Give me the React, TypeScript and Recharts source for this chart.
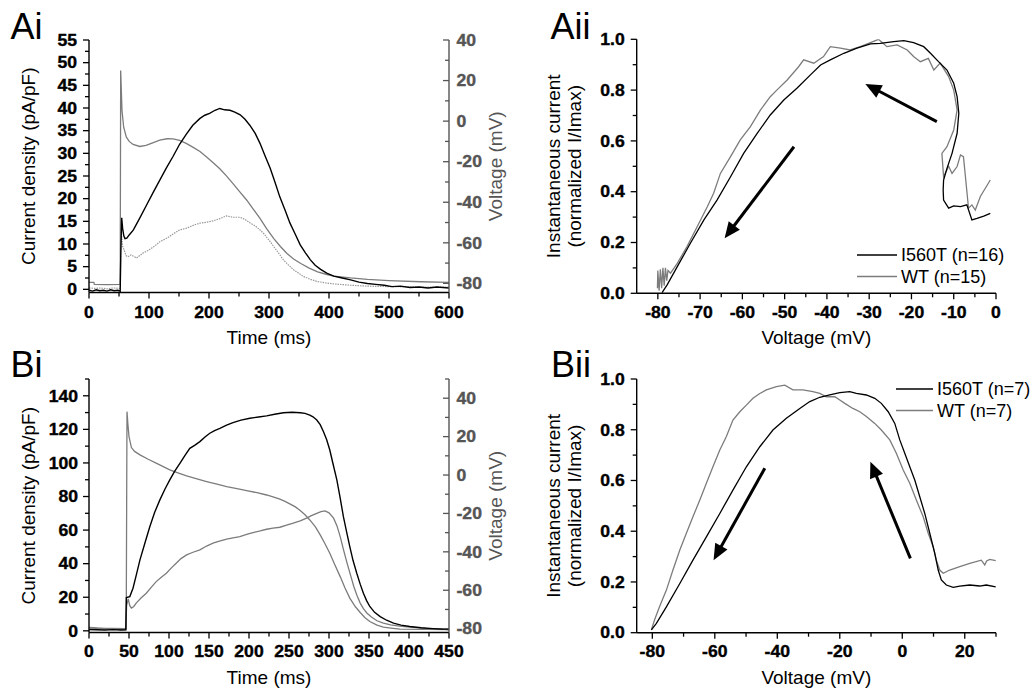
import React from 'react';
import { LineChart, Line, XAxis, YAxis, ReferenceLine, Legend } from 'recharts';

// ---------------- data ----------------
// Panel Ai: time (ms) vs current density (pA/pF) and voltage (mV)
const AI_VOLTAGE: [number, number][] = [
  [0, -79.5], [8, -79.5], [9, -80.5], [30, -80.6], [52, -80.5], [52.8, 25], [55, 5.2], [57.8, -3], [62.3, -7.9],
  [67, -10], [73.5, -11.5], [84.6, -12.5], [95, -12], [105, -10.8], [118, -9.4], [130, -8.7], [140, -8.8],
  [151, -9.5], [162, -11], [173, -12.8], [185, -15], [196, -17.7], [207, -20.5], [218, -23.5], [229, -27],
  [240, -30.8], [251, -34.8], [263, -39], [274, -43.5], [285, -48], [296, -53], [308, -57.9], [319, -61.8],
  [330, -65.3], [341, -68], [353, -70.2], [367, -72.5], [381, -74.3], [395, -75.5], [408, -76.4], [436, -77.3],
  [464, -78], [500, -78.6], [553, -79.2], [600, -79.5],
];
const AI_I560T: [number, number][] = [
  [0, -0.2], [6, -0.4], [12, -0.1], [18, -0.3], [24, -0.2], [30, -0.4], [36, -0.1], [42, -0.3], [48, -0.2],
  [52, -0.4], [53, 8], [54.5, 15.8], [56, 13.5], [58, 11.8], [60, 11.2], [63, 11.3], [67, 12], [74, 13.1],
  [85, 15.8], [96, 18.6], [107, 21.4], [118, 24.1], [129, 26.8], [140, 29.3], [151, 32], [162, 34.2],
  [173, 36.2], [185, 37.7], [193, 38.4], [201, 38.8], [210, 39.5], [218, 39.9], [226, 39.6], [235, 39.5],
  [243, 39.1], [252, 38.5], [260, 37.5], [268, 36.2], [277, 34.4], [285, 32.2], [293, 29.6], [302, 26.7],
  [310, 23.6], [318, 20.4], [327, 17.4], [335, 14.6], [344, 12.1], [352, 9.8], [361, 8], [369, 6.5],
  [377, 5.3], [386, 4.4], [397, 3.5], [408, 2.9], [422, 2.5], [436, 2.1], [450, 1.6], [464, 1.3], [478, 1.1],
  [492, 0.9], [505, 0.6], [519, 0.7], [535, 0.4], [550, 0.5], [565, 0.3], [580, 0.5], [600, 0.3],
];
const AI_WT: [number, number][] = [
  [0, 0.3], [10, 0.2], [20, 0.3], [30, 0.1], [40, 0.3], [52, 0.2], [53.5, 13], [56, 9.5], [59, 8.5], [62, 7.4],
  [65, 7.2], [70, 7.6], [74, 7.3], [79, 6.9], [84, 7.4], [90, 8], [100, 8.7], [110, 9.6], [118, 10.5],
  [130, 11.3], [140, 12.2], [151, 13.1], [163, 13.5], [175, 14.2], [185, 14.6], [196, 14.8], [207, 15.1],
  [218, 15.6], [229, 16.2], [240, 15.9], [252, 15.9], [260, 15.4], [268, 14.7], [277, 14], [285, 13.1],
  [292, 12.2], [296, 11.5], [302, 10.5], [308, 9.4], [316, 8], [324, 6.5], [333, 5.3], [341, 4.3], [350, 3.5],
  [358, 2.8], [369, 2.2], [381, 1.7], [395, 1.4], [408, 1.2], [436, 0.9], [464, 0.7], [500, 0.6], [550, 0.5],
  [600, 0.5],
];

// Panel Bi
const BI_VOLTAGE: [number, number][] = [
  [0, -79.3], [10, -79.6], [20, -79.8], [30, -79.9], [46.5, -80], [47.5, 33], [48.5, 27], [50, 20], [53, 14.3],
  [57, 12.3], [63.7, 10.5], [74, 8.2], [84.6, 6.1], [101, 2.7], [112, 1], [122, -0.5], [135, -2], [147, -3.4],
  [160, -4.8], [172, -6], [185, -7.1], [197, -8.1], [210, -9.2], [222, -10.4], [230, -11.4], [238.6, -12.6],
  [245, -13.7], [251, -15], [258, -16.6], [264, -18.5], [270, -20.7], [276, -23.4], [283, -27], [289, -31.2],
  [295, -35.8], [301, -40.7], [307, -46.5], [314, -52.9], [320, -58.8], [326, -64.1], [333, -68.6],
  [339, -71.6], [345, -74.3], [351, -76.3], [360, -78.2], [368, -79.2], [380, -79.8], [389, -80.2],
  [420, -80.4], [450, -80.5],
];
const BI_I560T: [number, number][] = [
  [0, 0.8], [10, 0.6], [20, 0.5], [30, 0.7], [40, 0.5], [46, 0.6], [46.7, 19.8], [51, 20.4], [55, 25.4],
  [59, 33], [63.7, 42.3], [70, 52.5], [76, 62], [82, 70.5], [88.6, 78], [95, 84.5], [101, 89.9], [107, 95],
  [113.6, 99.8], [120, 104.5], [126, 108.7], [132, 110.5], [138.6, 112.7], [145, 115.5], [151, 117.7],
  [157, 119.3], [163.6, 120.6], [172, 122.5], [180, 124], [190, 125.5], [201, 126.6], [212, 127.4], [222, 128],
  [232, 129], [243, 129.9], [254, 130.2], [264, 129.9], [270, 129.5], [276, 128.5], [280, 127.5],
  [284.7, 125.6], [289, 122.8], [293, 118.7], [297, 114], [301, 107.7], [305, 99.5], [309.8, 89.9], [314, 79],
  [318, 68], [322, 59], [326, 50.2], [330, 42], [334.7, 34.3], [339, 27.8], [343, 22.4], [347, 18], [351, 14.5],
  [357, 11], [364, 8.5], [372, 6.3], [380.6, 4.6], [390, 3.4], [401, 2.6], [415, 1.8], [430, 1.3], [450, 0.8],
];
const BI_WT: [number, number][] = [
  [0, 1.8], [10, 1.5], [20, 1.2], [30, 1], [40, 0.8], [46, 0.7], [47, 15], [49, 19], [51, 15], [53, 13.5],
  [56, 14.5], [59, 16.5], [65, 19.5], [71.6, 22.4], [78, 26], [84, 29.3], [90, 31.8], [96.7, 34.3], [103, 37.5],
  [109, 40.3], [115, 43], [122, 45.2], [130, 46.8], [138.6, 48.2], [147, 50.5], [155, 52.2], [163, 53.4],
  [172, 54.6], [180, 55.3], [188.6, 56.1], [197, 57.4], [205, 58.5], [214, 59.5], [222, 60.5], [230, 61.2],
  [238.6, 61.7], [247, 62.9], [255.3, 64.1], [264, 65.5], [272, 67.1], [278, 68.6], [284.7, 70], [290, 71],
  [295, 71.4], [300, 70.3], [305.7, 67.1], [310, 62.5], [314, 56.1], [318, 48.5], [322.6, 40.3], [327, 33],
  [331, 26.4], [335, 21], [339, 16.5], [343, 13.2], [347.6, 10.5], [353, 8.2], [360, 6], [368, 4.6],
  [377, 3.6], [388, 2.8], [401, 2.2], [420, 1.5], [450, 1],
];

// Panel Aii: voltage (mV) vs normalized current, in trajectory order
const AII_I560T: [number, number][] = [
  [-1.35, 0.315], [-2.9, 0.304], [-4.5, 0.295], [-5.7, 0.289], [-6.9, 0.348], [-8.4, 0.341], [-10, 0.344],
  [-11.2, 0.335], [-12.4, 0.367], [-12.5, 0.407], [-12.4, 0.446], [-11.6, 0.492], [-10.4, 0.551], [-9.2, 0.63],
  [-8.8, 0.709], [-9.2, 0.774], [-10, 0.827], [-11.6, 0.879], [-13.6, 0.912], [-15.5, 0.945], [-17.1, 0.971],
  [-19.5, 0.987], [-21.8, 0.995], [-24.2, 0.991], [-27.4, 0.984], [-29.7, 0.982], [-32.9, 0.965], [-36, 0.945],
  [-39.2, 0.919], [-41.5, 0.899], [-43.9, 0.86], [-47.1, 0.807], [-50.2, 0.761], [-53.4, 0.702], [-56.5, 0.63],
  [-59.7, 0.551], [-62.8, 0.459], [-66, 0.367], [-69.1, 0.289], [-72.3, 0.197], [-75.4, 0.105], [-77.8, 0.033],
  [-79, 0.003],
];
const AII_WT: [number, number][] = [
  [-1.35, 0.446], [-3.7, 0.381], [-4.9, 0.328], [-5.7, 0.348], [-6.5, 0.335], [-7.7, 0.538], [-8.4, 0.545],
  [-9.2, 0.499], [-10.4, 0.472], [-11.2, 0.5], [-12.4, 0.459], [-12.8, 0.551], [-11.6, 0.577], [-10, 0.643],
  [-9.2, 0.722], [-10, 0.8], [-11.2, 0.853], [-13.2, 0.906], [-14.7, 0.879], [-16, 0.925], [-17.9, 0.912],
  [-19.5, 0.932], [-21, 0.958], [-23.4, 0.978], [-25.8, 0.971], [-27.8, 1.0], [-29.7, 0.987], [-32.1, 0.971],
  [-34.5, 0.958], [-36.8, 0.965], [-39.2, 0.971], [-40.8, 0.932], [-43.1, 0.906], [-45.5, 0.919], [-46.7, 0.892],
  [-49.4, 0.84], [-51.8, 0.801], [-53.4, 0.774], [-55.7, 0.722], [-58.1, 0.656], [-60.5, 0.604], [-62.8, 0.538],
  [-65.2, 0.472], [-66.8, 0.394], [-68.3, 0.341], [-70.7, 0.262], [-73.1, 0.184], [-75.4, 0.118], [-77, 0.079],
  [-77.6, 0.09], [-77.9, 0.05], [-78.2, 0.1], [-78.5, 0.03], [-78.8, 0.1], [-79.1, 0.02], [-79.4, 0.095],
  [-79.7, 0.01], [-80, 0.09], [-80.1, 0.02],
];

// Panel Bii
const BII_I560T: [number, number][] = [
  [29.9, 0.181], [26.9, 0.188], [24.8, 0.184], [21.6, 0.188], [18.4, 0.184], [16.3, 0.179], [14.1, 0.188],
  [12.5, 0.208], [11.5, 0.247], [10.4, 0.313], [8.8, 0.392], [7.2, 0.47], [5.6, 0.536], [4, 0.602], [2.4, 0.654],
  [0.8, 0.707], [-0.8, 0.76], [-2.4, 0.825], [-4.5, 0.871], [-6.7, 0.904], [-8.8, 0.924], [-11.5, 0.937],
  [-14.7, 0.943], [-16.8, 0.95], [-20, 0.946], [-23.2, 0.937], [-26.4, 0.928], [-29.6, 0.911], [-32.8, 0.884],
  [-37.1, 0.845], [-41.4, 0.799], [-45.6, 0.733], [-49.9, 0.654], [-54.2, 0.562], [-58.4, 0.47], [-62.7, 0.378],
  [-67, 0.286], [-71.2, 0.194], [-75.5, 0.102], [-78.7, 0.037], [-80.3, 0.011],
];
const BII_WT: [number, number][] = [
  [29.9, 0.284], [28, 0.289], [27, 0.283], [26.4, 0.267], [25.3, 0.286], [21.6, 0.273], [18.4, 0.26],
  [15.2, 0.247], [13.1, 0.234], [12, 0.247], [10.9, 0.286], [9.9, 0.339], [8.3, 0.392], [6.7, 0.457],
  [4.5, 0.523], [2.4, 0.589], [0.3, 0.641], [-1.9, 0.707], [-4, 0.76], [-6.7, 0.799], [-8.8, 0.825],
  [-11.5, 0.852], [-13.6, 0.871], [-15.8, 0.884], [-18.4, 0.904], [-20, 0.917], [-21.6, 0.93], [-24.3, 0.93],
  [-26.4, 0.943], [-28.6, 0.95], [-31.8, 0.957], [-35, 0.957], [-37.6, 0.976], [-40.3, 0.97], [-43.5, 0.957],
  [-45.6, 0.943], [-47.8, 0.924], [-49.9, 0.897], [-52, 0.871], [-54.2, 0.838], [-56.3, 0.773], [-58.4, 0.72],
  [-60.6, 0.654], [-62.7, 0.589], [-64.8, 0.523], [-67, 0.457], [-69.1, 0.392], [-71.2, 0.326], [-73.4, 0.247],
  [-75.5, 0.168], [-77.7, 0.102], [-79.3, 0.05], [-80.3, 0.011],
];

// Direction arrows (start point -> tip), in data units
const AII_ARROWS: [number, number, number, number][] = [
  [-14, 0.676, -30.9, 0.824],
  [-47.8, 0.577, -64.2, 0.217],
];
const BII_ARROWS: [number, number, number, number][] = [
  [-44, 0.648, -60.4, 0.286],
  [2.6, 0.293, -10.2, 0.674],
];

const AII_LEGEND = ['I560T (n=16)', 'WT (n=15)'];
const BII_LEGEND = ['I560T (n=7)', 'WT (n=7)'];

// tick values
const seq = (a: number, b: number, s: number) => {
  const r: number[] = [];
  for (let i = 0; a + i * s <= b + 1e-9; i++) r.push(+(a + i * s).toFixed(4));
  return r;
};
const AI_X_MAJOR = seq(0, 600, 100);
const AI_X_TICKS = seq(0, 600, 50);
const AI_I_MAJOR = seq(0, 55, 5);
const AI_I_TICKS = seq(0, 55, 2.5);
const AI_V_MAJOR = seq(-80, 40, 20);
const AI_V_TICKS = seq(-80, 40, 10);
const BI_X_MAJOR = seq(0, 450, 50);
const BI_X_TICKS = seq(0, 450, 25);
const BI_I_MAJOR = seq(0, 140, 20);
const BI_I_TICKS = seq(0, 150, 10);
const BI_V_MAJOR = seq(-80, 40, 20);
const BI_V_TICKS = seq(-80, 50, 10);
const AII_X_MAJOR = seq(-80, 0, 10);
const AII_X_TICKS = seq(-80, 0, 5);
const BII_X_MAJOR = seq(-80, 20, 20);
const BII_X_TICKS = seq(-80, 30, 10);
const NORM_MAJOR = seq(0, 1, 0.2);
const NORM_TICKS = seq(0, 1, 0.1);

// ---------------- styling helpers ----------------
const FONT = 'Arial, "Liberation Sans", Helvetica, sans-serif';
const BLACK = '#000000';
const GRAY = '#7c7c7c';
const DOTGRAY = '#999999';
const AXGRAY = '#555555';

const pts = (arr: [number, number][]) => arr.map(([x, y]) => ({ x, y }));

type TickOpts = {
  side: 'bottom' | 'left' | 'right';
  majors: number[];
  fmt?: (v: number) => string;
  color?: string;
  size?: number;
  gap?: number;
};
const TickText = (p: { x: number; y: number; anchor: string; color: string; size: number; dy?: string; children: any }) => (
  <text transform={`translate(${p.x},${p.y}) scale(1.1,1)`} x={0} y={0} dy={p.dy} textAnchor={p.anchor}
    fontWeight="bold" fontFamily={FONT} fontSize={p.size} fill={p.color} stroke={p.color} strokeWidth={0.35}>
    {p.children}
  </text>
);
const makeTick = (o: TickOpts) => (props: any) => {
  const { x, y, payload } = props;
  const v = payload.value;
  const major = o.majors.some((m) => Math.abs(m - v) < 1e-6);
  const len = major ? 6 : 4;
  const color = o.color ?? BLACK;
  const fs = o.size ?? 16;
  const label = major ? (o.fmt ? o.fmt(v) : String(v)) : null;
  if (o.side === 'bottom') {
    return (
      <g>
        <line x1={x} y1={y} x2={x} y2={y + len} stroke={color} strokeWidth={1.3} />
        {label !== null && <TickText x={x} y={y + (o.gap ?? 25)} anchor="middle" color={color} size={fs}>{label}</TickText>}
      </g>
    );
  }
  if (o.side === 'left') {
    return (
      <g>
        <line x1={x - len} y1={y} x2={x} y2={y} stroke={color} strokeWidth={1.3} />
        {label !== null && <TickText x={x - (o.gap ?? 12)} y={y} dy="0.36em" anchor="end" color={color} size={fs}>{label}</TickText>}
      </g>
    );
  }
  return (
    <g>
      <line x1={x - len} y1={y} x2={x} y2={y} stroke={color} strokeWidth={1.3} />
      {label !== null && <TickText x={x + (o.gap ?? 7)} y={y} dy="0.36em" anchor="start" color={color} size={fs}>{label}</TickText>}
    </g>
  );
};

const vTitle = (lines: string[], dx: number, color = BLACK, size = 19, lineGap = 21) => (p: any) => {
  const vb = p.viewBox || { x: 0, y: 0, width: 0, height: 0 };
  const cy = vb.y + vb.height / 2;
  return (
    <g>
      {lines.map((t, i) => {
        const cx = vb.x + dx + i * lineGap;
        return (
          <text key={i} x={cx} y={cy} transform={`rotate(-90 ${cx} ${cy})`} textAnchor="middle"
            dominantBaseline="central" fill={color} fontSize={size} fontFamily={FONT}>{t}</text>
        );
      })}
    </g>
  );
};
const hTitle = (text: string, dy: number, size = 19) => (p: any) => {
  const vb = p.viewBox || { x: 0, y: 0, width: 0, height: 0 };
  return (
    <text x={vb.x + vb.width / 2} y={vb.y + dy} textAnchor="middle" dominantBaseline="central"
      fill={BLACK} fontSize={size} fontFamily={FONT}>{text}</text>
  );
};

const ArrowShape = (p: any) => {
  const { x1, y1, x2, y2 } = p;
  if ([x1, y1, x2, y2].some((v) => typeof v !== 'number' || isNaN(v))) return <g />;
  const dx = x2 - x1;
  const dy = y2 - y1;
  const L = Math.hypot(dx, dy) || 1;
  const ux = dx / L;
  const uy = dy / L;
  const head = 16;
  const hw = 7;
  const bx = x2 - ux * head;
  const by = y2 - uy * head;
  const px = -uy;
  const py = ux;
  return (
    <g>
      <line x1={x1} y1={y1} x2={bx + ux * 2} y2={by + uy * 2} stroke={BLACK} strokeWidth={3} />
      <polygon points={`${x2},${y2} ${bx + px * hw},${by + py * hw} ${bx - px * hw},${by - py * hw}`} fill={BLACK} />
    </g>
  );
};

const legendContent = (labels: string[], lineLen: number, rowGap: number) => () => (
  <svg width={lineLen + 130} height={rowGap * 2 + 4} style={{ display: 'block', overflow: 'visible' }}>
    {labels.map((t, i) => {
      const y = 11 + i * rowGap;
      return (
        <g key={t}>
          <line x1={0} y1={y} x2={lineLen} y2={y} stroke={i === 0 ? BLACK : GRAY} strokeWidth={1.3} />
          <text x={lineLen + 4} y={y} dominantBaseline="central" fontSize={18} fontFamily={FONT} fill={BLACK}>{t}</text>
        </g>
      );
    })}
  </svg>
);

const panelLabel = (text: string, left: number, top: number) => (
  <div style={{ position: 'absolute', left, top, fontSize: 36, lineHeight: '36px', fontFamily: FONT, color: '#000' }}>
    {text}
  </div>
);

const axisLine = { stroke: BLACK, strokeWidth: 1.4 };
const grayAxisLine = { stroke: AXGRAY, strokeWidth: 1.4 };

// ---------------- panels ----------------
const PanelAi = () => (
  <LineChart width={517} height={360} margin={{ top: 40, right: 0, bottom: 0, left: 0 }}>
    <XAxis type="number" dataKey="x" domain={[0, 600]} ticks={AI_X_TICKS} interval={0} height={67.5}
      tickSize={0} tickMargin={0} tickLine={false} axisLine={axisLine} allowDataOverflow
      tick={makeTick({ side: 'bottom', majors: AI_X_MAJOR, gap: 25 })} label={hTitle('Time (ms)', 44.5)} />
    <YAxis yAxisId="i" type="number" domain={[-0.7, 55]} ticks={AI_I_TICKS} interval={0} width={89}
      tickSize={0} tickMargin={0} tickLine={false} axisLine={axisLine} allowDataOverflow
      tick={makeTick({ side: 'left', majors: AI_I_MAJOR, gap: 12 })}
      label={vTitle(['Current density (pA/pF)'], 28.5)} />
    <YAxis yAxisId="v" orientation="right" type="number" domain={[-84.5, 40]} ticks={AI_V_TICKS} interval={0}
      width={68} tickSize={0} tickMargin={0} tickLine={false} axisLine={grayAxisLine} allowDataOverflow
      tick={makeTick({ side: 'right', majors: AI_V_MAJOR, color: AXGRAY, gap: 7.5 })}
      label={vTitle(['Voltage (mV)'], 46.7, AXGRAY)} />
    <Line yAxisId="v" data={pts(AI_VOLTAGE)} dataKey="y" name="Voltage" stroke={GRAY} strokeWidth={1.3}
      dot={false} activeDot={false} isAnimationActive={false} type="linear" />
    <Line yAxisId="i" data={pts(AI_WT)} dataKey="y" name="WT" stroke={DOTGRAY} strokeWidth={1.2}
      strokeDasharray="1.5 1" dot={false} activeDot={false} isAnimationActive={false} type="linear" />
    <Line yAxisId="i" data={pts(AI_I560T)} dataKey="y" name="I560T" stroke={BLACK} strokeWidth={1.4}
      dot={false} activeDot={false} isAnimationActive={false} type="linear" />
  </LineChart>
);

const PanelBi = () => (
  <LineChart width={517} height={351} margin={{ top: 39, right: 0, bottom: 0, left: 0 }}>
    <XAxis type="number" dataKey="x" domain={[0, 450]} ticks={BI_X_TICKS} interval={0} height={58.5}
      tickSize={0} tickMargin={0} tickLine={false} axisLine={axisLine} allowDataOverflow
      tick={makeTick({ side: 'bottom', majors: BI_X_MAJOR, gap: 24.5 })} label={hTitle('Time (ms)', 44.5)} />
    <YAxis yAxisId="i" type="number" domain={[-1, 150]} ticks={BI_I_TICKS} interval={0} width={89}
      tickSize={0} tickMargin={0} tickLine={false} axisLine={axisLine} allowDataOverflow
      tick={makeTick({ side: 'left', majors: BI_I_MAJOR, gap: 11 })}
      label={vTitle(['Current density (pA/pF)'], 28.5)} />
    <YAxis yAxisId="v" orientation="right" type="number" domain={[-82, 50]} ticks={BI_V_TICKS} interval={0}
      width={68} tickSize={0} tickMargin={0} tickLine={false} axisLine={grayAxisLine} allowDataOverflow
      tick={makeTick({ side: 'right', majors: BI_V_MAJOR, color: AXGRAY, gap: 7.5 })}
      label={vTitle(['Voltage (mV)'], 46.7, AXGRAY)} />
    <Line yAxisId="v" data={pts(BI_VOLTAGE)} dataKey="y" name="Voltage" stroke={GRAY} strokeWidth={1.3}
      dot={false} activeDot={false} isAnimationActive={false} type="linear" />
    <Line yAxisId="i" data={pts(BI_WT)} dataKey="y" name="WT" stroke={GRAY} strokeWidth={1.3}
      dot={false} activeDot={false} isAnimationActive={false} type="linear" />
    <Line yAxisId="i" data={pts(BI_I560T)} dataKey="y" name="I560T" stroke={BLACK} strokeWidth={1.4}
      dot={false} activeDot={false} isAnimationActive={false} type="linear" />
  </LineChart>
);

const fmt1 = (v: number) => v.toFixed(1);

const PanelII = (props: {
  height: number; top: number; xDomain: [number, number]; xTicks: number[]; xMajor: number[]; xHeight: number;
  black: [number, number][]; gray: [number, number][]; arrows: [number, number, number, number][];
  legend: string[]; legendLeft: number; legendTop: number; legendLine: number; legendGap: number; xGap: number;
}) => (
  <LineChart width={514} height={props.height} margin={{ top: props.top, right: 38, bottom: 0, left: 0 }}>
    <XAxis type="number" dataKey="x" domain={props.xDomain} ticks={props.xTicks} interval={0} height={props.xHeight}
      tickSize={0} tickMargin={0} tickLine={false} axisLine={axisLine} allowDataOverflow
      tick={makeTick({ side: 'bottom', majors: props.xMajor, gap: props.xGap })}
      label={hTitle('Voltage (mV)', 44.5)} />
    <YAxis type="number" domain={[0, 1]} ticks={NORM_TICKS} interval={0} width={116.7}
      tickSize={0} tickMargin={0} tickLine={false} axisLine={axisLine} allowDataOverflow
      tick={makeTick({ side: 'left', majors: NORM_MAJOR, fmt: fmt1, gap: 12 })}
      label={vTitle(['Instantaneous current', '(normalized I/Imax)'], 33.3, BLACK, 19, 21.5)} />
    <Legend layout="vertical" align="center" verticalAlign="middle"
      wrapperStyle={{ left: props.legendLeft, top: props.legendTop, width: 'auto', height: 'auto' }}
      content={legendContent(props.legend, props.legendLine, props.legendGap)} />
    <Line data={pts(props.gray)} dataKey="y" name={props.legend[1]} stroke={GRAY} strokeWidth={1.3}
      dot={false} activeDot={false} isAnimationActive={false} type="linear" />
    <Line data={pts(props.black)} dataKey="y" name={props.legend[0]} stroke={BLACK} strokeWidth={1.3}
      dot={false} activeDot={false} isAnimationActive={false} type="linear" />
    {props.arrows.map((a, i) => (
      <ReferenceLine key={i} segment={[{ x: a[0], y: a[1] }, { x: a[2], y: a[3] }]} shape={ArrowShape}
        ifOverflow="visible" />
    ))}
  </LineChart>
);

export default function App() {
  return (
    <div style={{ position: 'absolute', left: 0, top: 0, width: 1034, height: 691, background: '#fff', overflow: 'hidden' }}>
      <div style={{ position: 'absolute', left: 0, top: 0 }}><PanelAi /></div>
      <div style={{ position: 'absolute', left: 0, top: 340 }}><PanelBi /></div>
      <div style={{ position: 'absolute', left: 520, top: 0 }}>
        <PanelII height={360} top={39.3} xDomain={[-85, 0]} xTicks={AII_X_TICKS} xMajor={AII_X_MAJOR} xHeight={66.7}
          black={AII_I560T} gray={AII_WT} arrows={AII_ARROWS} legend={AII_LEGEND}
          legendLeft={336.7} legendTop={243.7} legendLine={40} legendGap={21.5} xGap={25} />
      </div>
      <div style={{ position: 'absolute', left: 520, top: 340 }}>
        <PanelII height={351} top={39} xDomain={[-85, 30]} xTicks={BII_X_TICKS} xMajor={BII_X_MAJOR} xHeight={58.3}
          black={BII_I560T} gray={BII_WT} arrows={BII_ARROWS} legend={BII_LEGEND}
          legendLeft={376} legendTop={38.3} legendLine={37} legendGap={21.5} xGap={24} />
      </div>
      {panelLabel('Ai', 10.5, 8.8)}
      {panelLabel('Bi', 10.5, 347.2)}
      {panelLabel('Aii', 550.5, 8.8)}
      {panelLabel('Bii', 551, 347.2)}
    </div>
  );
}
